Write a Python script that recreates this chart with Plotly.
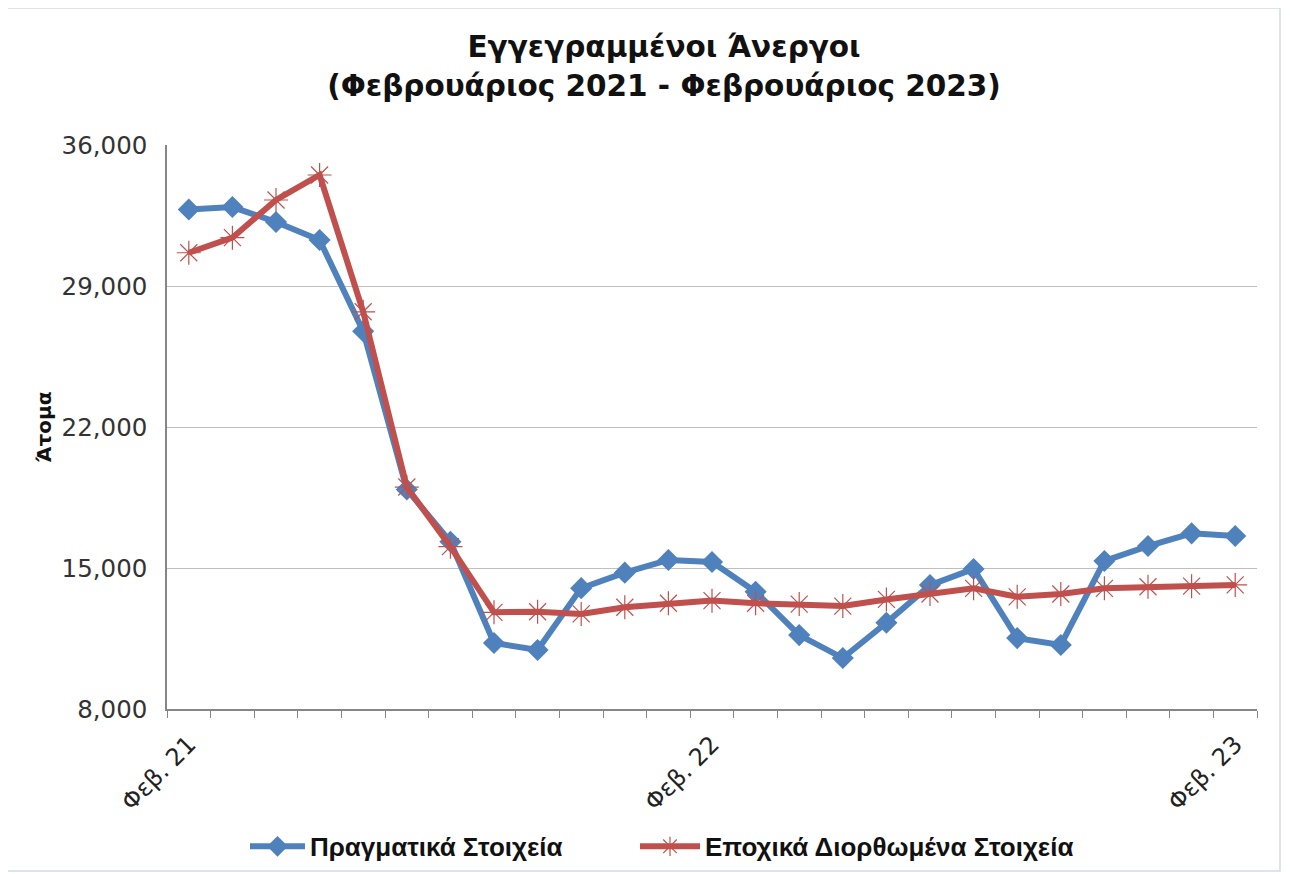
import plotly.graph_objects as go

months = ["Φεβ. 21", "Μαρ. 21", "Απρ. 21", "Μαϊ. 21", "Ιουν. 21", "Ιουλ. 21", "Αυγ. 21",
          "Σεπ. 21", "Οκτ. 21", "Νοε. 21", "Δεκ. 21", "Ιαν. 22", "Φεβ. 22", "Μαρ. 22",
          "Απρ. 22", "Μαϊ. 22", "Ιουν. 22", "Ιουλ. 22", "Αυγ. 22", "Σεπ. 22", "Οκτ. 22",
          "Νοε. 22", "Δεκ. 22", "Ιαν. 23", "Φεβ. 23"]

actual = [32800, 32920, 32180, 31280, 26750, 18900, 16300, 11280, 10930, 14000,
          14770, 15400, 15300, 13820, 11670, 10530, 12280, 14150, 14950, 11520,
          11180, 15350, 16090, 16720, 16590]

seasonal = [30650, 31400, 33270, 34510, 27720, 19020, 16060, 12800, 12830, 12720,
            13050, 13250, 13380, 13250, 13210, 13110, 13440, 13710, 13990, 13570,
            13710, 13990, 14070, 14100, 14160]

shown_labels = ["Φεβ. 21", "Φεβ. 22", "Φεβ. 23"]
y_ticks = [8000, 15000, 22000, 29000, 36000]

idx = list(range(len(months)))
tickvals = [months.index(m) for m in shown_labels]

BLUE = "#4F81BD"
RED = "#C0504D"
FONT = "DejaVu Sans"
LEGEND_FONT = dict(family="Liberation Sans", size=26, color="#111111", weight="bold")

fig = go.Figure()
fig.add_trace(go.Scatter(
    x=idx, y=actual, name="Πραγματικά Στοιχεία", mode="lines+markers",
    line=dict(color=BLUE, width=6),
    marker=dict(symbol="diamond", size=17, color=BLUE),
    customdata=months, hovertemplate="%{customdata}: %{y:,}<extra></extra>",
    legend="legend",
))
fig.add_trace(go.Scatter(
    x=idx, y=seasonal, name="Εποχικά Διορθωμένα Στοιχεία", mode="lines+markers",
    line=dict(color=RED, width=6),
    marker=dict(symbol="asterisk-open", size=20, color=RED, line=dict(color="#A84440", width=1.2)),
    customdata=months, hovertemplate="%{customdata}: %{y:,}<extra></extra>",
    legend="legend2",
))

fig.update_layout(
    width=1282, height=866,
    margin=dict(l=159, r=33, t=137, b=165, autoexpand=False),
    paper_bgcolor="white", plot_bgcolor="white",
    font=dict(family=FONT, color="#333333"),
    title=dict(
        text="<b>Εγγεγραμμένοι Άνεργοι<br>(Φεβρουάριος 2021 - Φεβρουάριος 2023)</b>",
        x=(664 - 8) / 1282, xanchor="center", y=0.943, yanchor="top",
        font=dict(family=FONT, size=29.5, color="#111111"),
    ),
    showlegend=True,
    legend=dict(
        orientation="h", x=(245 - 167) / 1090, xanchor="left", y=-0.202, yanchor="top",
        font=LEGEND_FONT, itemwidth=55, bgcolor="rgba(0,0,0,0)",
    ),
    legend2=dict(
        orientation="h", x=(635 - 167) / 1090, xanchor="left", y=-0.202, yanchor="top",
        font=LEGEND_FONT, itemwidth=60, bgcolor="rgba(0,0,0,0)",
    ),
    xaxis=dict(
        range=[-0.5, len(months) - 0.5], automargin=False,
        tickmode="array", tickvals=tickvals, ticktext=shown_labels,
        tickangle=-45, ticks="", showgrid=False, zeroline=False,
        showline=True, linecolor="#868686", linewidth=1.5, ticklabelstandoff=10,
        tickfont=dict(family=FONT, size=24, color="#222222"),
        minor=dict(ticks="outside", tick0=-0.5, dtick=1, ticklen=7, tickcolor="#868686", tickwidth=1.2, showgrid=False),
    ),
    yaxis=dict(
        range=[8000, 36000], tickmode="array", tickvals=y_ticks, automargin=False,
        tickformat=",d", showgrid=True, gridcolor="#BFBFBF", gridwidth=1,
        zeroline=False, showline=True, linecolor="#868686", linewidth=1.5,
        ticks="", ticklabelstandoff=13,
        tickfont=dict(family=FONT, size=24.5, color="#333333"),
        title=dict(text="<b>Άτομα</b>", font=dict(family=FONT, size=20, color="#111111"), standoff=5),
    ),
    shapes=[dict(
        type="rect", xref="paper", yref="paper",
        x0=(7 - 167) / 1090, x1=(1280 - 167) / 1090,
        y0=(709 - 871) / 564, y1=(709 - 8) / 564,
        line=dict(color="#D4DCE6", width=1.5), fillcolor="rgba(0,0,0,0)", layer="below",
    )],
)

fig.write_html("out.html")
